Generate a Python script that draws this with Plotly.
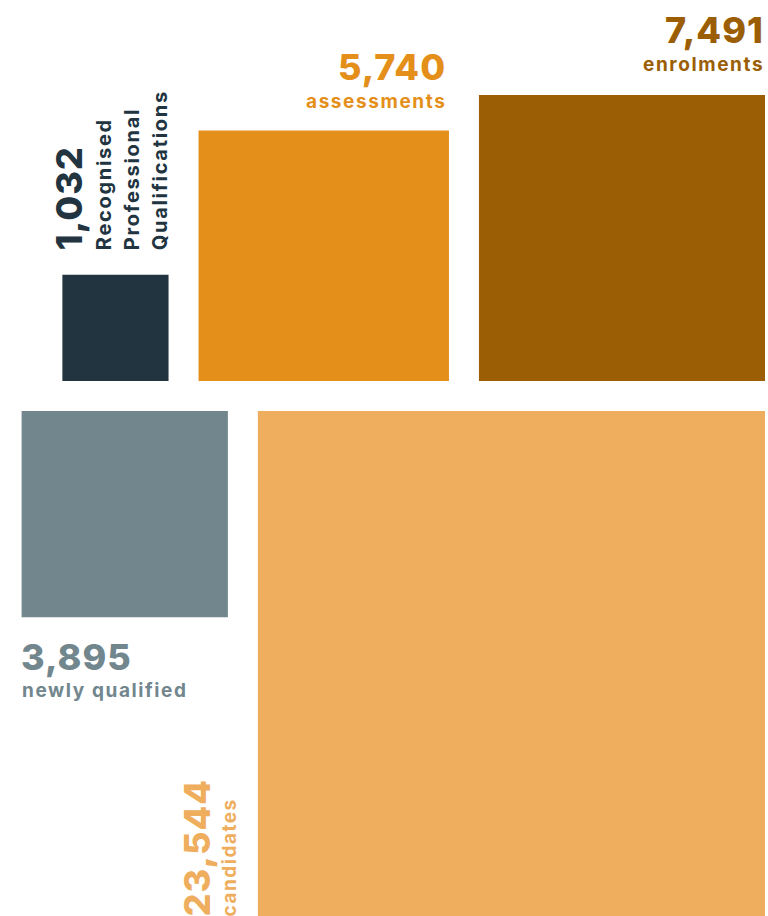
import math
import plotly.graph_objects as go

# ---- data ----
values = [1032, 5740, 7491, 3895, 23544]
numbers = ["1,032", "5,740", "7,491", "3,895", "23,544"]
labels = ["Recognised Professional Qualifications", "assessments", "enrolments",
          "newly qualified", "candidates"]
colors = ["#22343f", "#e38f1a", "#9b5e05", "#72868e", "#eeae5e"]

# ---- layout parameters ----
W, H = 768, 916
K = 3.305           # pixels per sqrt(unit)
GAP = 30
RIGHT = 765
TOP_BASE = 381
BOTTOM_TOP = 411
FONT = "Inter"

sides = [K * math.sqrt(v) for v in values]
rects = [None] * 5
x1 = RIGHT
for i in [2, 1, 0]:
    s = sides[i]
    rects[i] = (x1 - s, TOP_BASE - s, x1, TOP_BASE)
    x1 = x1 - s - GAP
x1 = RIGHT
for i in [4, 3]:
    s = sides[i]
    rects[i] = (x1 - s, BOTTOM_TOP, x1, BOTTOM_TOP + s)
    x1 = x1 - s - GAP

fig = go.Figure()
for i, (x0, y0, xx1, y1) in enumerate(rects):
    fig.add_trace(go.Scatter(
        x=[x0, xx1, xx1, x0, x0], y=[y0, y0, y1, y1, y0],
        mode="lines", fill="toself", fillcolor=colors[i],
        line=dict(width=0, color=colors[i]), hoverinfo="skip", showlegend=False))


def sp(t, ls):
    return f'<span style="letter-spacing:{ls}px">{t}</span>'


ann = []
NUM = 36
LAB = 19


def add(text, x, y, xa, ya, size, color, weight, angle=0, ls=1, yshift=0):
    ann.append(dict(text=sp(text, ls), x=x, y=y, xref="x", yref="y",
                    xanchor=xa, yanchor=ya, showarrow=False, textangle=angle,
                    yshift=yshift,
                    font=dict(family=FONT, size=size, color=color, weight=weight)))


# 1,032 (rotated)
x0, y0, xx1, y1 = rects[0]
add(numbers[0], x0 + 30, y0 - 23, "right", "bottom", NUM, colors[0], 800, -90, 1)
for j, word in enumerate(labels[0].split(" ")):
    add(word, x0 + 55 + 28 * j, y0 - 23, "right", "bottom", LAB + 1, colors[0], 700, -90, 1.7)

# 5,740
x0, y0, xx1, y1 = rects[1]
add(numbers[1], xx1 - 1, y0 - 40, "right", "bottom", NUM, colors[1], 800, 0, 1)
add(labels[1], xx1 - 1, y0 - 16, "right", "bottom", LAB, colors[1], 700, 0, 1.6)

# 7,491
x0, y0, xx1, y1 = rects[2]
add(numbers[2], xx1 + 1, y0 - 41, "right", "bottom", NUM, colors[2], 800, 0, 1)
add(labels[2], xx1 + 1, y0 - 17, "right", "bottom", LAB, colors[2], 700, 0, 1.6)

# 3,895
x0, y0, xx1, y1 = rects[3]
add(numbers[3], x0 - 3, y1 + 16, "left", "top", NUM, colors[3], 800, 0, 1)
add(labels[3], x0 - 2, y1 + 60, "left", "top", LAB, colors[3], 700, 0, 1.6)

# 23,544 (rotated)
x0, y0, xx1, y1 = rects[4]
add(numbers[4], x0 - 37, H - 1, "right", "bottom", NUM, colors[4], 800, -90, 1, yshift=-3)
add(labels[4], x0 - 15, H - 1, "right", "bottom", LAB, colors[4], 700, -90, 1.5, yshift=-3)

fig.update_layout(
    width=W, height=H, margin=dict(l=0, r=0, t=0, b=0),
    paper_bgcolor="white", plot_bgcolor="white",
    xaxis=dict(range=[0, W], visible=False, fixedrange=True),
    yaxis=dict(range=[H, 0], visible=False, fixedrange=True),
    annotations=ann, showlegend=False)

fig.write_html("out.html", config={"displayModeBar": False},
               post_script="document.body.style.margin='0';document.body.style.overflow='hidden';")
